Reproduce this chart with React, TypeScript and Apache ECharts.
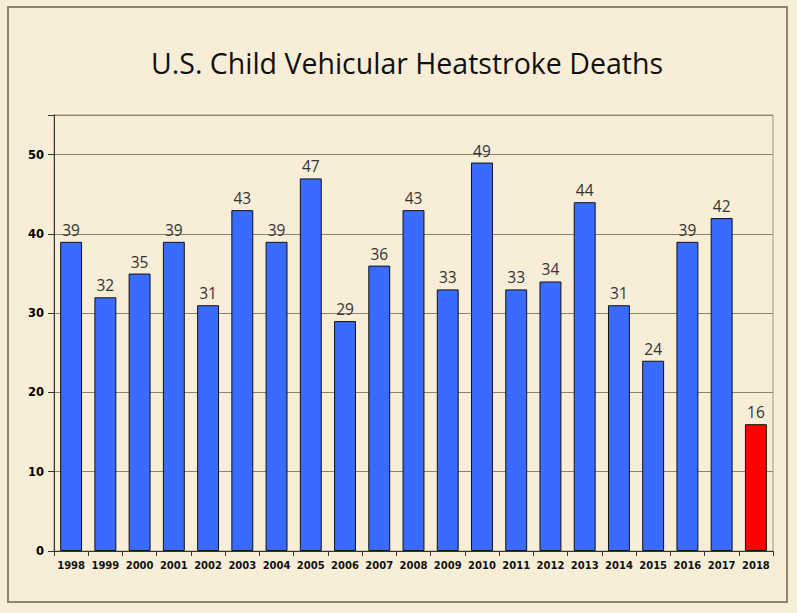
import React, { useEffect, useRef } from "react";
import * as echarts from "echarts";

const years = ["1998","1999","2000","2001","2002","2003","2004","2005","2006","2007","2008","2009","2010","2011","2012","2013","2014","2015","2016","2017","2018"];
const deaths = [39,32,35,39,31,43,39,47,29,36,43,33,49,33,34,44,31,24,39,42,16];
const highlightYear = "2018";
const titleText = "U.S. Child Vehicular Heatstroke Deaths";

export default function App() {
  const ref = useRef<HTMLDivElement>(null);
  useEffect(() => {
    if (!ref.current) return;
    const chart = echarts.init(ref.current, null, { renderer: "svg" });
    chart.setOption({
      animation: false,
      backgroundColor: "#f8eed8",
      title: {
        text: titleText,
        left: 151,
        top: 48,
        padding: 0,
        textStyle: { fontFamily: "Open Sans", fontSize: 28.5, fontWeight: "normal", color: "#111" },
      },
      graphic: [
        {
          type: "rect",
          shape: { x: 8, y: 7, width: 779, height: 595 },
          style: { fill: "none", stroke: "#8c8373", lineWidth: 2 },
          silent: true,
        },
      ],
      grid: { left: 54, top: 115, right: 24, bottom: 62, show: true, borderColor: "#9a9488", borderWidth: 1, backgroundColor: "transparent" },
      xAxis: {
        type: "category",
        data: years,
        axisLine: { lineStyle: { color: "#333", width: 1 } },
        axisTick: { show: true, length: 5, lineStyle: { color: "#333" } },
        axisLabel: { fontFamily: "DejaVu Sans", fontWeight: "bold", fontSize: 10, color: "#111", margin: 9, interval: 0 },
      },
      yAxis: {
        type: "value",
        min: 0,
        max: 55,
        interval: 10,
        axisLine: { show: true, lineStyle: { color: "#333", width: 1 } },
        axisTick: { show: true, length: 6, lineStyle: { color: "#333" } },
        axisLabel: {
          fontFamily: "DejaVu Sans", fontWeight: "bold", fontSize: 11.5, color: "#000", margin: 10,
          formatter: (v: number) => (v % 10 === 0 ? String(v) : ""),
        },
        splitLine: { show: true, lineStyle: { color: "#8a8272", width: 1 } },
      },
      series: [
        {
          type: "bar",
          data: deaths.map((v, i) => ({
            value: v,
            itemStyle: { color: years[i] === highlightYear ? "#ff0000" : "#3a6bff" },
          })),
          barWidth: "64%",
          itemStyle: { borderColor: "#111", borderWidth: 1 },
          label: { show: true, position: "top", distance: 4, fontFamily: "Open Sans", fontSize: 15.5, color: "#333" },
        },
      ],
    });
    return () => chart.dispose();
  }, []);
  return <div ref={ref} style={{ position: "absolute", left: 0, top: 0, width: 797, height: 613 }} />;
}
